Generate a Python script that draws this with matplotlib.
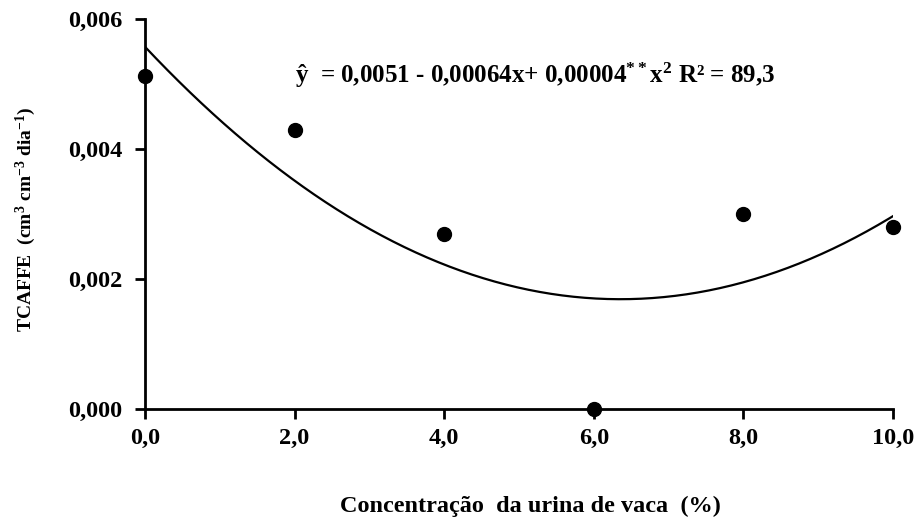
import numpy as np
import matplotlib
matplotlib.use('Agg')
import matplotlib.pyplot as plt

plt.rcParams['font.family'] = ['Liberation Serif', 'DejaVu Serif']
plt.rcParams['font.weight'] = 'bold'
plt.rcParams['mathtext.fontset'] = 'custom'
plt.rcParams['mathtext.rm'] = 'Liberation Serif:bold'
plt.rcParams['mathtext.it'] = 'Liberation Serif:bold'
plt.rcParams['mathtext.bf'] = 'Liberation Serif:bold'

# data
conc = [0, 2, 4, 6, 8, 10]
tcaffe = [0.00513, 0.00430, 0.00270, 0.0, 0.00300, 0.00280]
xticks = [0, 2, 4, 6, 8, 10]
yticks = [0.0, 0.002, 0.004, 0.006]

# quadratic trend line fitted to the points
coef = np.polyfit(conc, tcaffe, 2)
xs = np.linspace(0, 10, 200)
ys = np.polyval(coef, xs)

fig = plt.figure(figsize=(9.23, 5.22), dpi=100)
ax = fig.add_axes([0.157, 0.2165, 0.8105, 0.747])

ax.plot(xs, ys, color='black', lw=1.6, zorder=2)
ax.plot(conc, tcaffe, 'o', color='black', ms=10, zorder=3, clip_on=False)

ax.set_xlim(0, 10)
ax.set_ylim(0, 0.006)
ax.set_xticks(xticks)
ax.set_yticks(yticks)
ax.set_xticklabels([f'{v:.1f}'.replace('.', ',') for v in xticks])
ax.set_yticklabels([f'{v:.3f}'.replace('.', ',') for v in yticks])

for s in ['top', 'right']:
    ax.spines[s].set_visible(False)
for s in ['left', 'bottom']:
    ax.spines[s].set_linewidth(2)
ax.tick_params(direction='out', length=7, width=2, labelsize=17.5)
ax.tick_params(axis='y', pad=9)
ax.tick_params(axis='x', pad=7)
for lab in ax.get_xticklabels() + ax.get_yticklabels():
    lab.set_fontweight('bold')

ax.text(0.522, 0.855, 'ŷ  = 0,0051 - 0,00064x+ 0,00004$^{\\mathrm{**}}$x$^{\\mathrm{2}}$ R² = 89,3',
        transform=ax.transAxes, ha='center', va='center', fontsize=18, fontweight='bold')

fig.text(0.575, 0.03, 'Concentração  da urina de vaca  (%)', ha='center', va='center',
         fontsize=17.5, fontweight='bold')
fig.text(0.028, 0.58, 'TCAFFE  (cm$^{\\mathrm{3}}$ cm$^{\\mathrm{-3}}$ dia$^{\\mathrm{-1}}$)', rotation=90,
         ha='center', va='center', fontsize=14, fontweight='bold')

fig.savefig('out.png', dpi=100)
